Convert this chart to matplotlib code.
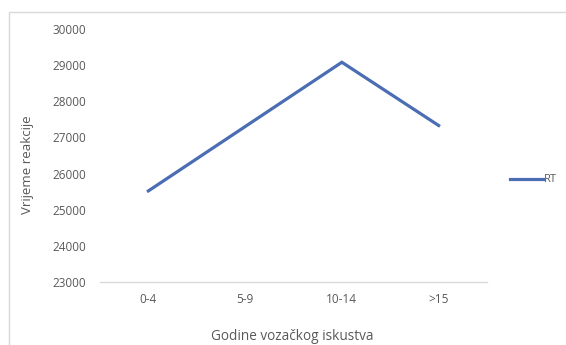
import matplotlib
matplotlib.use("Agg")
import matplotlib.pyplot as plt
from matplotlib.patches import Rectangle

categories = ["0-4", "5-9", "10-14", ">15"]
rt_values = [25520, 27300, 29080, 27330]
y_ticks = [23000, 24000, 25000, 26000, 27000, 28000, 29000, 30000]

W, H = 566, 345
fig = plt.figure(figsize=(W / 100, H / 100), dpi=100)
fig.patch.set_facecolor("white")

# chart frame
fig.patches.append(Rectangle((9 / W, -0.1), 1.2, 1 - 12 / H + 0.1,
                             transform=fig.transFigure, fill=False,
                             edgecolor="#d9d9d9", linewidth=1.0))

ax = fig.add_axes([100 / W, 1 - 282 / H, 387 / W, (282 - 29) / H])
font = "Open Sans"
grey = "#595959"

x = list(range(len(categories)))
line, = ax.plot(x, rt_values, color="#4a6db3", linewidth=2.3,
                solid_joinstyle="miter", label="RT")

ax.set_xlim(-0.5, len(categories) - 0.5)
ax.set_ylim(23000, 30000)
ax.set_yticks(y_ticks)
ax.set_yticklabels([str(v) for v in y_ticks], fontfamily=font, fontsize=8.5, color=grey)
ax.set_xticks(x)
ax.set_xticklabels(categories, fontfamily=font, fontsize=8.5, color=grey)
ax.tick_params(axis="y", length=0, pad=10)
ax.tick_params(axis="x", length=0, pad=8)

for s in ["top", "right", "left"]:
    ax.spines[s].set_visible(False)
ax.spines["bottom"].set_color("#d9d9d9")
ax.spines["bottom"].set_linewidth(1.0)

# axis titles
fig.text(292 / W, 1 - 336 / H, "Godine vozačkog iskustva", fontfamily=font,
         fontsize=9.8, color=grey, ha="center", va="center")
fig.text(28 / W, 1 - 165 / H, "Vrijeme reakcije", fontfamily=font,
         fontsize=9.5, color=grey, ha="center", va="center", rotation=90)

leg = fig.legend(handles=[line], labels=["RT"], loc="center left",
                 bbox_to_anchor=(510 / W, 1 - 180 / H), frameon=False,
                 prop={"family": font, "size": 8.0}, handlelength=3.0,
                 handletextpad=0.05, borderaxespad=0, borderpad=0)
for t in leg.get_texts():
    t.set_color(grey)

fig.savefig("out.png", dpi=100, facecolor="white")
